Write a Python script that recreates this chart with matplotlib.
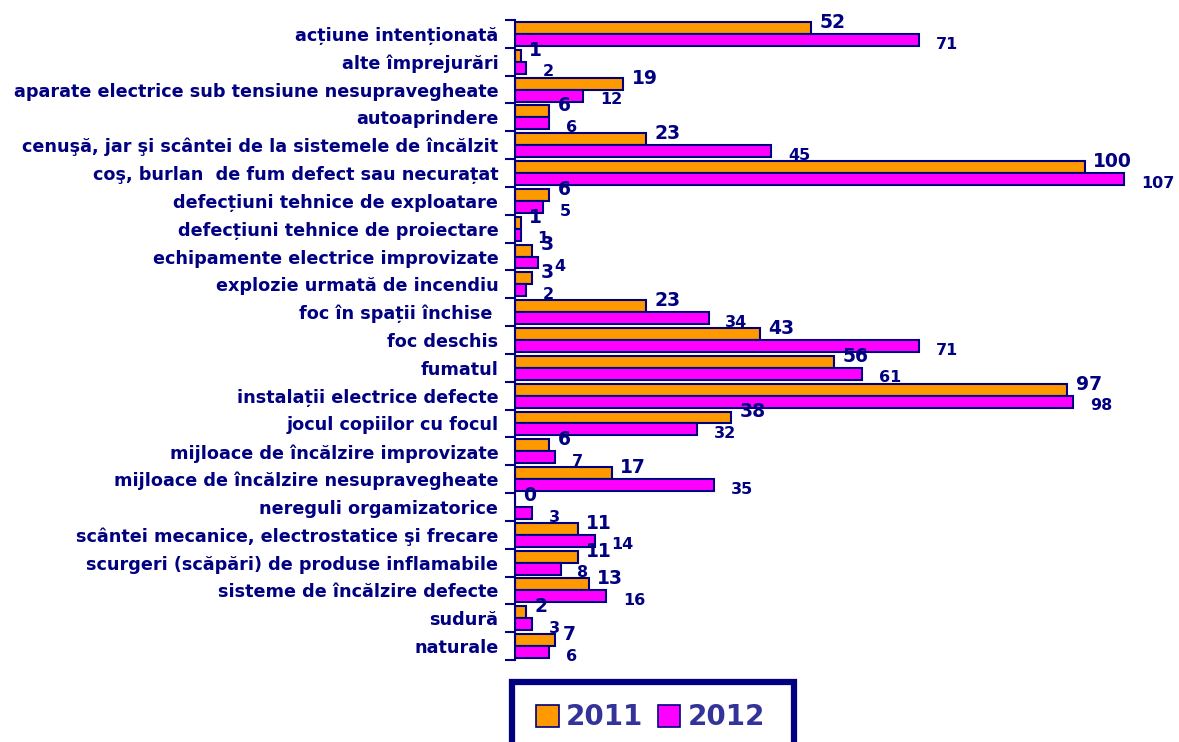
import matplotlib
matplotlib.use("Agg")
import matplotlib.pyplot as plt
from matplotlib.patches import Rectangle, Patch
import numpy as np

categories = [
    "acțiune intenționată",
    "alte împrejurări",
    "aparate electrice sub tensiune nesupravegheate",
    "autoaprindere",
    "cenuşă, jar şi scântei de la sistemele de încălzit",
    "coş, burlan  de fum defect sau necurațat",
    "defecțiuni tehnice de exploatare",
    "defecțiuni tehnice de proiectare",
    "echipamente electrice improvizate",
    "explozie urmată de incendiu",
    "foc în spații închise ",
    "foc deschis",
    "fumatul",
    "instalații electrice defecte",
    "jocul copiilor cu focul",
    "mijloace de încălzire improvizate",
    "mijloace de încălzire nesupravegheate",
    "nereguli orgamizatorice",
    "scântei mecanice, electrostatice şi frecare",
    "scurgeri (scăpări) de produse inflamabile",
    "sisteme de încălzire defecte",
    "sudură",
    "naturale",
]
vals_2011 = [52, 1, 19, 6, 23, 100, 6, 1, 3, 3, 23, 43, 56, 97, 38, 6, 17, 0, 11, 11, 13, 2, 7]
vals_2012 = [71, 2, 12, 6, 45, 107, 5, 1, 4, 2, 34, 71, 61, 98, 32, 7, 35, 3, 14, 8, 16, 3, 6]
series_labels = ["2011", "2012"]

NAVY = "#000080"
ORANGE = "#FF9900"
MAGENTA = "#FF00FF"

W, H = 1179, 742
fig = plt.figure(figsize=(W / 100, H / 100), dpi=100)
ax = fig.add_axes([515 / W, 1 - 660 / H, 655 / W, 640 / H])

y = np.arange(len(categories))
bh = 0.43
ax.barh(y - bh / 2, vals_2011, height=bh, color=ORANGE, edgecolor=NAVY, linewidth=1.5)
ax.barh(y + bh / 2, vals_2012, height=bh, color=MAGENTA, edgecolor=NAVY, linewidth=1.5)

for i, (a, b) in enumerate(zip(vals_2011, vals_2012)):
    ax.annotate(str(a), xy=(a, i - bh / 2), xytext=(6, 4), textcoords="offset points",
                ha="left", va="center", fontsize=13.5, fontweight="bold", color=NAVY)
    ax.annotate(str(b), xy=(b, i + bh / 2), xytext=(12, -3), textcoords="offset points",
                ha="left", va="center", fontsize=11.5, fontweight="bold", color=NAVY)

ax.set_xlim(0, 115)
ax.set_ylim(len(categories) - 0.5, -0.5)
for s in ["top", "right", "bottom"]:
    ax.spines[s].set_visible(False)
ax.spines["left"].set_color(NAVY)
ax.spines["left"].set_linewidth(1.5)
ax.set_xticks([])
ax.set_yticks(y)
ax.set_yticklabels(categories, fontsize=12.7, fontweight="bold", color=NAVY)
ax.tick_params(axis="y", which="major", length=0, pad=12)
ax.set_yticks(np.arange(len(categories) + 1) - 0.5, minor=True)
ax.tick_params(axis="y", which="minor", length=7, width=1.5, color=NAVY)

# legend box at the bottom, running off the figure edge
fig.patches.append(Rectangle((512 / W, -20 / H), 282 / W, 80 / H, transform=fig.transFigure,
                             facecolor="white", edgecolor=NAVY, linewidth=4.5))
handles = [Patch(facecolor=ORANGE, edgecolor=NAVY, linewidth=1.2),
           Patch(facecolor=MAGENTA, edgecolor=NAVY, linewidth=1.2)]
leg = fig.legend(handles, series_labels, loc="upper left", bbox_to_anchor=(517 / W, 1 - 684 / H),
                 ncol=2, frameon=False, fontsize=20, handlelength=0.8, handleheight=0.85,
                 handletextpad=0.25, columnspacing=0.55, borderpad=0.2)
for t in leg.get_texts():
    t.set_fontweight("bold")
    t.set_color("#333399")

fig.savefig("out.png", dpi=100)
